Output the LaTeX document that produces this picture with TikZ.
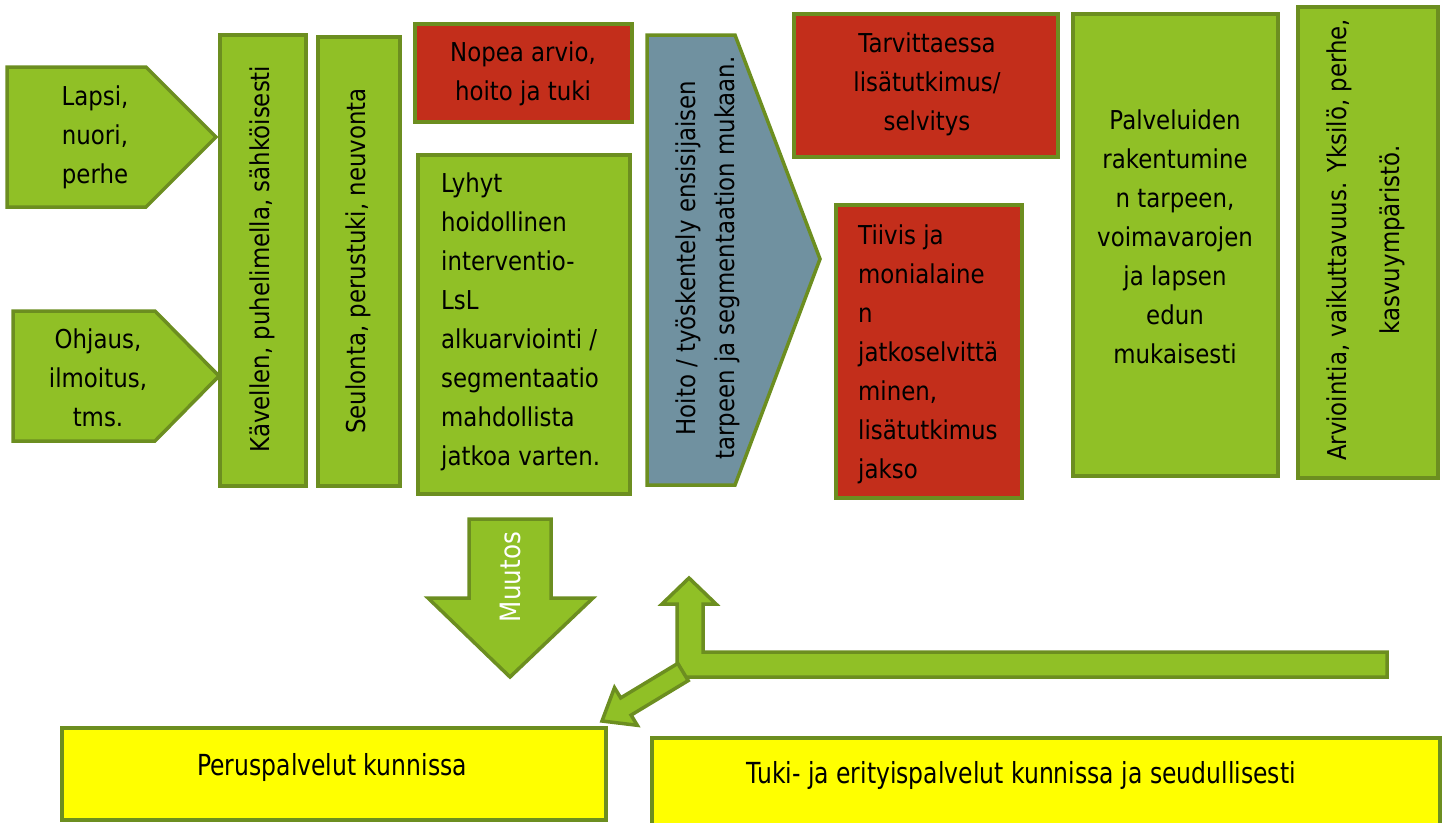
\documentclass[tikz,border=0pt]{standalone}
\usepackage{fontspec}
\setmainfont{DejaVu Sans}[FakeStretch=0.88]
\newfontfamily\narrowfont{DejaVu Sans}[FakeStretch=0.81]
\definecolor{gfill}{RGB}{144,192,38}
\definecolor{gdraw}{RGB}{108,142,32}
\definecolor{rfill}{RGB}{195,46,27}
\definecolor{bfill}{RGB}{112,145,160}
\definecolor{yfill}{RGB}{255,255,0}
\begin{document}
\begin{tikzpicture}[x=1pt,y=-1pt,
  shp/.style={draw=gdraw, line width=3.5pt, line join=miter},
  gbox/.style={shp, fill=gfill, inner sep=0pt},
  rbox/.style={shp, fill=rfill, inner sep=0pt},
  ybox/.style={shp, fill=yfill, inner sep=0pt},
  txt/.style={font=\fontsize{26}{39}\selectfont, align=center, inner sep=0pt, text=black},
  ltxt/.style={txt, align=left},
  ntxt/.style={font=\narrowfont\fontsize{29}{34}\selectfont, inner sep=0pt}
]
\useasboundingbox (0,0) rectangle (1445,822);
\clip (0,0) rectangle (1445,822);

% left pentagon arrows
\draw[gbox] (7,67) -- (146,67) -- (216,137) -- (146,207) -- (7,207) -- cycle;
\node[txt] (lapsi) at (95,137) {Lapsi,\\nuori,\\perhe};
\draw[gbox] (13,311) -- (155,311) -- (219,376) -- (155,441) -- (13,441) -- cycle;
\node[txt] (ohjaus) at (98,378) {Ohjaus,\\ilmoitus,\\tms.};

% vertical green columns
\node[gbox, minimum width=86pt, minimum height=451pt] (kav) at (263,260.5) {};
\node[txt, rotate=90] (kavt) at (262,259) {Kävellen, puhelimella, sähköisesti};
\node[gbox, minimum width=82pt, minimum height=449pt] (seu) at (359,261.5) {};
\node[txt, rotate=90] (seut) at (358,261) {Seulonta, perustuki, neuvonta};

% Nopea / Lyhyt
\node[rbox, minimum width=217pt, minimum height=98pt] (nop) at (523.5,73) {};
\node[txt] (nopt) at (523,74) {Nopea arvio,\\hoito ja tuki};
\node[gbox, minimum width=212pt, minimum height=339pt] (lyh) at (524,324.5) {};
\node[ltxt, anchor=west] (lyht) at (441,322) {Lyhyt\\hoidollinen\\interventio-\\LsL\\alkuarviointi /\\segmentaatio\\mahdollista\\jatkoa varten.};

% blue pentagon
\draw[shp, fill=bfill] (647,35) -- (735,35) -- (820,259) -- (735,485) -- (647,485) -- cycle;
\node[txt, rotate=90] (hoito) at (708,258) {Hoito / työskentely ensisijaisen\\tarpeen ja segmentaation mukaan.};

% red boxes right
\node[rbox, minimum width=264pt, minimum height=143pt] (tar) at (926,85.5) {};
\node[txt] (tart) at (927,84) {Tarvittaessa\\lisätutkimus/\\selvitys};
\node[rbox, minimum width=186pt, minimum height=293pt] (tii) at (929,351.5) {};
\node[ltxt, anchor=west] (tiit) at (858,354) {Tiivis ja\\monialaine\\n\\jatkoselvittä\\minen,\\lisätutkimus\\jakso};

% right green boxes
\node[gbox, minimum width=205pt, minimum height=462pt] (pal) at (1175.5,245) {};
\node[txt] (palt) at (1175,237) {Palveluiden\\rakentumine\\n tarpeen,\\voimavarojen\\ja lapsen\\edun\\mukaisesti};
\node[gbox, minimum width=140pt, minimum height=471pt] (arv) at (1368,242.5) {};
\node[txt, rotate=90] (arvt) at (1366,240) {Arviointia, vaikuttavuus. Yksilö, perhe,\\[14pt]kasvuympäristö.};

% Muutos arrow
\draw[gbox] (469,519) -- (551,519) -- (551,598) -- (593,598) -- (510,677) -- (428,598) -- (469,598) -- cycle;
\node[txt, rotate=90, text=white, font=\fontsize{28}{34}\selectfont] (muutos) at (510,577) {Muutos};

% bent arrow
\draw[gbox] (703,604) -- (716,604) -- (689,578) -- (662,604) -- (677,604) -- (677,663) -- (685,677) -- (1387,677) -- (1387,652) -- (703,652) -- cycle;
\draw[gbox] (677.8,663.4) -- (688.2,680.6) -- (631.1,715.1) -- (637.3,725.3) -- (602,721) -- (614.5,687.7) -- (620.7,697.9) -- cycle;

% yellow boxes
\node[ybox, minimum width=544pt, minimum height=92pt] (per) at (334,774) {};
\node[ntxt] (pert) at (332,767) {Peruspalvelut kunnissa};
\node[ybox, minimum width=788pt, minimum height=110pt] (tuki) at (1046,793) {};
\node[ntxt] (tukit) at (1021,775) {Tuki- ja erityispalvelut kunnissa ja seudullisesti};
\end{tikzpicture}
\end{document}
